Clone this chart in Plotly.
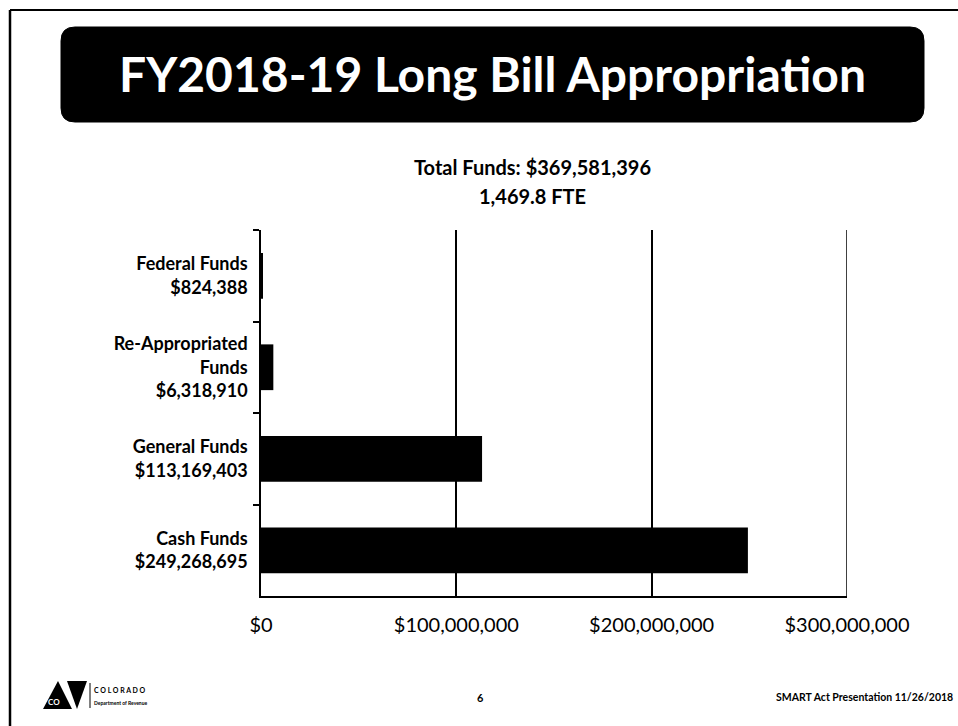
import plotly.graph_objects as go

# ---- data (top-to-bottom order as in the slide) ----
categories = ["Federal Funds", "Re-Appropriated<br>Funds", "General Funds", "Cash Funds"]
amounts = [824388, 6318910, 113169403, 249268695]
x_tickvals = [0, 100000000, 200000000, 300000000]
x_ticktext = ["$0", "$100,000,000", "$200,000,000", "$300,000,000"]
slide_title = "FY2018-19 Long Bill Appropriation"
chart_title = ["Total Funds: $369,581,396", "1,469.8 FTE"]
footer_page = "6"
footer_right = "SMART Act Presentation 11/26/2018"

W, H = 958, 726
L, R, T, B = 261, 847, 230, 596  # plot area in px

def px_x(p):
    return (p - L) / (R - L)

def px_y(p):
    return (B - p) / (B - T)

labels = [f"<b>{c}<br>${v:,}</b>" for c, v in zip(categories, amounts)]

FONT = "Lato, 'Open Sans', sans-serif"

fig = go.Figure(
    go.Bar(
        x=amounts,
        y=labels,
        orientation="h",
        marker=dict(color="#000000", line=dict(width=0)),
        hoverinfo="skip",
    )
)

fig.update_layout(
    width=W,
    height=H,
    margin=dict(l=L, r=W - R, t=T, b=H - B, pad=0),
    paper_bgcolor="white",
    plot_bgcolor="white",
    showlegend=False,
    bargap=0.5,
    font=dict(family=FONT, color="black"),
)

fig.update_xaxes(
    range=[0, 300000000],
    tickvals=x_tickvals,
    ticktext=x_ticktext,
    tickfont=dict(size=20, family=FONT, color="black"),
    showgrid=True,
    gridcolor="black",
    gridwidth=1.5,
    showline=True,
    linecolor="black",
    linewidth=1.5,
    zeroline=False,
    ticks="",
    ticklabelstandoff=10,
)

fig.update_yaxes(
    autorange="reversed",
    tickfont=dict(size=18, family=FONT, color="black"),
    showline=True,
    linecolor="black",
    linewidth=1.5,
    ticks="outside",
    tickson="boundaries",
    ticklen=6,
    tickcolor="black",
    tickwidth=1.5,
    showgrid=False,
    ticklabelstandoff=8,
)

# last gridline at the axis maximum
fig.add_shape(type="line", xref="x", yref="paper",
              x0=x_tickvals[-1], x1=x_tickvals[-1], y0=0, y1=1,
              line=dict(color="black", width=1.5))

# slide border lines
fig.add_shape(type="line", xref="paper", yref="paper",
              x0=px_x(10), x1=px_x(958), y0=px_y(10), y1=px_y(10),
              line=dict(color="black", width=2))
fig.add_shape(type="line", xref="paper", yref="paper",
              x0=px_x(10), x1=px_x(10), y0=px_y(10), y1=px_y(726),
              line=dict(color="black", width=2.5))

# rounded title box
x0, x1, y0, y1, r = 61, 924, 27, 122, 14
path = (
    f"M {px_x(x0 + r)},{px_y(y0)} L {px_x(x1 - r)},{px_y(y0)} "
    f"Q {px_x(x1)},{px_y(y0)} {px_x(x1)},{px_y(y0 + r)} "
    f"L {px_x(x1)},{px_y(y1 - r)} Q {px_x(x1)},{px_y(y1)} {px_x(x1 - r)},{px_y(y1)} "
    f"L {px_x(x0 + r)},{px_y(y1)} Q {px_x(x0)},{px_y(y1)} {px_x(x0)},{px_y(y1 - r)} "
    f"L {px_x(x0)},{px_y(y0 + r)} Q {px_x(x0)},{px_y(y0)} {px_x(x0 + r)},{px_y(y0)} Z"
)
fig.add_shape(type="path", xref="paper", yref="paper", path=path,
              fillcolor="black", line=dict(color="black", width=1))

fig.add_annotation(xref="paper", yref="paper", x=px_x(492), y=px_y(73),
                   text=f"<b>{slide_title}</b>", showarrow=False,
                   font=dict(size=48, color="white", family=FONT),
                   xanchor="center", yanchor="middle")

# chart title
fig.add_annotation(xref="paper", yref="paper", x=px_x(532), y=px_y(167),
                   text=f"<b>{chart_title[0]}</b>", showarrow=False,
                   font=dict(size=20, color="black", family=FONT),
                   xanchor="center", yanchor="middle")
fig.add_annotation(xref="paper", yref="paper", x=px_x(532), y=px_y(196),
                   text=f"<b>{chart_title[1]}</b>", showarrow=False,
                   font=dict(size=20, color="black", family=FONT),
                   xanchor="center", yanchor="middle")

# footer: logo approximation
fig.add_shape(type="path", xref="paper", yref="paper",
              path=(f"M {px_x(43)},{px_y(709)} L {px_x(58)},{px_y(681)} L {px_x(72)},{px_y(709)} Z"),
              fillcolor="black", line=dict(color="black", width=0))
fig.add_shape(type="path", xref="paper", yref="paper",
              path=(f"M {px_x(67)},{px_y(681)} L {px_x(87)},{px_y(681)} L {px_x(77)},{px_y(709)} Z"),
              fillcolor="black", line=dict(color="black", width=0))
fig.add_shape(type="line", xref="paper", yref="paper",
              x0=px_x(90), x1=px_x(90), y0=px_y(683), y1=px_y(708),
              line=dict(color="black", width=1))
fig.add_annotation(xref="paper", yref="paper", x=px_x(54), y=px_y(702),
                   text="<b>CO</b>", showarrow=False,
                   font=dict(size=8, color="white", family=FONT),
                   xanchor="center", yanchor="middle")
fig.add_annotation(xref="paper", yref="paper", x=px_x(92), y=px_y(690),
                   text="<b>C O L O R A D O</b>", showarrow=False,
                   font=dict(size=7, color="black", family=FONT),
                   xanchor="left", yanchor="middle")
fig.add_annotation(xref="paper", yref="paper", x=px_x(92), y=px_y(703),
                   text="<b>Department of Revenue</b>", showarrow=False,
                   font=dict(size=5, color="black", family=FONT),
                   xanchor="left", yanchor="middle")

fig.add_annotation(xref="paper", yref="paper", x=px_x(480), y=px_y(697),
                   text=f"<b>{footer_page}</b>", showarrow=False,
                   font=dict(size=11, color="black", family=FONT),
                   xanchor="center", yanchor="middle")
fig.add_annotation(xref="paper", yref="paper", x=px_x(955), y=px_y(697),
                   text=f"<b>{footer_right}</b>", showarrow=False,
                   font=dict(size=10.5, color="black", family=FONT),
                   xanchor="right", yanchor="middle")

fig.write_html("out.html")
